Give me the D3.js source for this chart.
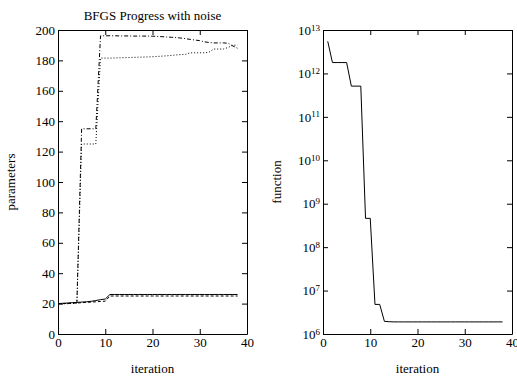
<!DOCTYPE html>
<html>
<head>
<meta charset="utf-8">
<script src="https://cdn.jsdelivr.net/npm/d3@7"></script>
<style>
  body { margin: 0; background: #fff; }
  svg { font-family: "Liberation Serif", "Times New Roman", serif; }
  .axis path, .axis line { stroke: #000; }
</style>
</head>
<body>
<div id="chart"></div>
<script>
// iteration numbers for the parameter plot
const iterations = [0,1,2,3,4,5,6,7,8,9,10,11,12,13,14,15,16,17,18,19,
  20,21,22,23,24,25,26,27,28,29,30,31,32,33,34,35,36,37,38];

// parameter traces (one per parameter)
const paramSolid = [20,20.2,20.4,20.6,20.8,21,21.2,21.5,22,22.6,23,26,26,26,26,26,26,26,26,26,
  26,26,26,26,26,26,26,26,26,26,26,26,26,26,26,26,26,26,26];
const paramDashed = [20,20,20.1,20.2,20.4,20.6,20.8,21,21.2,21.4,21.6,25,25,25,25,25,25,25,25,25,
  25,25,25,25,25,25,25,25,25,25,25,25,25,25,25,25,25,25,25];
const paramDashDot = [20,20,20,20.2,20.5,135,135,135,135,196.2,196.2,196.2,196.2,196.1,196.1,196.1,196,196,196,196,
  195.9,195.8,195.6,195.4,195.2,195,194.7,194.3,193.8,193.4,193,192.2,191.8,191.5,191.5,191.5,191.3,189.5,188];
const paramDotted = [20,20,20,20.2,20.5,125,125,125,125,181.5,181.5,181.5,181.6,181.7,181.8,181.9,182,182.1,182.2,182.3,
  182.4,182.6,182.8,183,183.3,183.6,183.8,184,185,185,185,185,185.5,187.5,187.5,187.5,188.5,190,190];

// function value per iteration (log plot)
const fIterations = [1,2,3,4,5,6,7,8,9,10,11,12,13,14,15,16,17,18,19,20,
  21,22,23,24,25,26,27,28,29,30,31,32,33,34,35,36,37,38];
const fValues = [5.5e12,1.78e12,1.78e12,1.78e12,1.78e12,5.1e11,5.1e11,5.1e11,4.6e8,4.6e8,
  4.8e6,4.8e6,1.95e6,1.92e6,1.9e6,1.9e6,1.9e6,1.9e6,1.9e6,1.9e6,
  1.9e6,1.9e6,1.9e6,1.9e6,1.9e6,1.9e6,1.9e6,1.9e6,1.9e6,1.9e6,
  1.9e6,1.9e6,1.9e6,1.9e6,1.9e6,1.9e6,1.9e6,1.9e6];

const xTicks = [0, 10, 20, 30, 40];
const paramTicks = [0, 20, 40, 60, 80, 100, 120, 140, 160, 180, 200];
const fTicks = [1e6, 1e7, 1e8, 1e9, 1e10, 1e11, 1e12, 1e13];

const width = 517, height = 377;
const plotTop = 30, plotBottom = 334;
const serif = "Liberation Serif";

const svg = d3.select("#chart").append("svg")
  .attr("width", width)
  .attr("height", height);

function styleAxis(g) {
  g.attr("font-family", serif).attr("font-size", 13);
  g.selectAll("text").attr("font-family", serif).attr("font-size", 13).attr("fill", "#000");
}

// frame: 4 axes with inward ticks, only bottom/left labelled
function drawFrame(x, y, yTicks, yFormat) {
  const [x0, x1] = x.range();
  svg.append("g").attr("class", "axis")
    .attr("transform", `translate(0,${plotBottom})`)
    .call(d3.axisBottom(x).tickValues(xTicks).tickSize(-5).tickSizeOuter(0).tickPadding(4))
    .call(styleAxis);
  svg.append("g").attr("class", "axis")
    .attr("transform", `translate(0,${plotTop})`)
    .call(d3.axisTop(x).tickValues(xTicks).tickSize(-5).tickSizeOuter(0).tickFormat(""));
  const left = svg.append("g").attr("class", "axis")
    .attr("transform", `translate(${x0},0)`)
    .call(d3.axisLeft(y).tickValues(yTicks).tickSize(-5).tickSizeOuter(0).tickPadding(3).tickFormat(yFormat))
    .call(styleAxis);
  svg.append("g").attr("class", "axis")
    .attr("transform", `translate(${x1},0)`)
    .call(d3.axisRight(y).tickValues(yTicks).tickSize(-5).tickSizeOuter(0).tickFormat(""));
  return left;
}

// ---- left: parameters ----
const x1 = d3.scaleLinear().domain([0, 40]).range([58, 247]);
const y1 = d3.scaleLinear().domain([0, 200]).range([plotBottom, plotTop]);
drawFrame(x1, y1, paramTicks, d3.format("d"));

const line1 = d3.line()
  .x((d, i) => x1(iterations[i]))
  .y((d) => y1(d));

[
  { values: paramSolid, dash: null },
  { values: paramDashed, dash: "3,2" },
  { values: paramDashDot, dash: "4,2,1,2" },
  { values: paramDotted, dash: "1,2" },
].forEach((s) => {
  svg.append("path")
    .datum(s.values)
    .attr("fill", "none")
    .attr("stroke", "#000")
    .attr("stroke-width", 1)
    .attr("stroke-dasharray", s.dash)
    .attr("d", line1);
});

svg.append("text")
  .attr("x", (58 + 247) / 2).attr("y", 20)
  .attr("text-anchor", "middle").attr("font-size", 13)
  .text("BFGS Progress with noise");

svg.append("text")
  .attr("x", (58 + 247) / 2).attr("y", 373)
  .attr("text-anchor", "middle").attr("font-size", 13)
  .text("iteration");

svg.append("text")
  .attr("transform", `translate(15,${(plotTop + plotBottom) / 2}) rotate(-90)`)
  .attr("text-anchor", "middle").attr("font-size", 13)
  .text("parameters");

// ---- right: function value (log) ----
const x2 = d3.scaleLinear().domain([0, 40]).range([323, 512]);
const y2 = d3.scaleLog().domain([1e6, 1e13]).range([plotBottom, plotTop]);
const leftAxis = drawFrame(x2, y2, fTicks, () => "");

leftAxis.selectAll(".tick text").each(function (d) {
  const t = d3.select(this);
  t.text("10");
  t.append("tspan")
    .attr("dy", "-0.45em")
    .attr("font-size", "9px")
    .text(Math.round(Math.log10(d)));
});

const line2 = d3.line()
  .x((d, i) => x2(fIterations[i]))
  .y((d) => y2(d));

svg.append("path")
  .datum(fValues)
  .attr("fill", "none")
  .attr("stroke", "#000")
  .attr("stroke-width", 1)
  .attr("d", line2);

svg.append("text")
  .attr("x", (323 + 512) / 2).attr("y", 373)
  .attr("text-anchor", "middle").attr("font-size", 13)
  .text("iteration");

svg.append("text")
  .attr("transform", `translate(281,${(plotTop + plotBottom) / 2}) rotate(-90)`)
  .attr("text-anchor", "middle").attr("font-size", 13)
  .text("function");
</script>
</body>
</html>
